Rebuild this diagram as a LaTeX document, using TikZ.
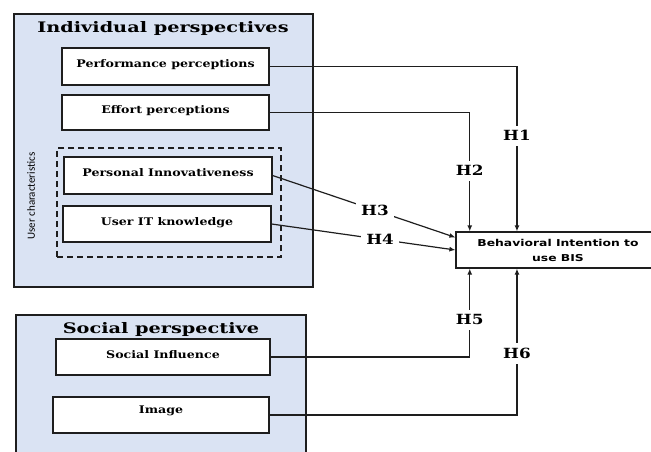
\documentclass[tikz,border=0pt]{standalone}
\usepackage{fontspec}
\setmainfont[FakeStretch=1.2]{DejaVu Serif}
\newfontfamily\titlefont[FakeStretch=1.33]{DejaVu Serif}
\newfontfamily\charfont{Carlito}
\newfontfamily\bisfont[FakeStretch=1.3]{DejaVu Sans}
\usetikzlibrary{arrows.meta,calc}
\definecolor{panelblue}{RGB}{218,227,243}
\definecolor{lineblack}{RGB}{30,30,30}
\begin{document}
\begin{tikzpicture}[x=1pt, y=-1pt, >={Latex[length=6pt,width=5pt]},
  panel/.style={draw=lineblack, line width=1.2pt, fill=panelblue, inner sep=0pt},
  factor/.style={draw=lineblack, line width=1.2pt, fill=white, inner sep=0pt, text height=9pt, text depth=7pt, font=\bfseries\fontsize{10.5}{13}\selectfont},
  paneltitle/.style={font=\titlefont\bfseries\fontsize{14.5}{18}\selectfont},
  link/.style={draw=lineblack, line width=1.2pt},
  hlabel/.style={fill=white, inner sep=5pt, font=\bfseries\fontsize{14}{16}\selectfont}]
\useasboundingbox (0,0) rectangle (651,451);
% individual perspectives
\node[panel, minimum width=299pt, minimum height=273pt] (indiv) at (163.5,150.5) {};
\node[paneltitle] (indivtitle) at (163,28) {Individual perspectives};
\node[factor, minimum width=207pt, minimum height=37pt] (perf) at (165.5,66.5) {Performance perceptions};
\node[factor, minimum width=207pt, minimum height=35pt] (effort) at (165.5,112.5) {Effort perceptions};
\node[draw=lineblack, line width=1.1pt, dash pattern=on 6pt off 4pt, minimum width=224pt, minimum height=109pt] (usergroup) at (169,202.5) {};
\node[factor, minimum width=208pt, minimum height=37pt] (innov) at (168,175.5) {Personal Innovativeness};
\node[factor, minimum width=208pt, minimum height=36pt] (itknow) at (167,224) {User IT knowledge};
\node[rotate=90, font=\charfont\fontsize{11}{13}\selectfont] (userchar) at (31,196) {User characteristics};
% social perspective
\node[panel, minimum width=290pt, minimum height=145pt] (social) at (161,387.5) {};
\node[paneltitle] (socialtitle) at (161,329) {Social perspective};
\node[factor, minimum width=214pt, minimum height=36pt] (influence) at (163,357) {Social Influence};
\node[factor, minimum width=216pt, minimum height=36pt, text depth=12pt] (image) at (161,415) {Image};
% outcome
\node[draw=lineblack, line width=1.2pt, fill=white, minimum width=204pt, minimum height=36pt, align=center, font=\bisfont\bfseries\fontsize{9.5}{15}\selectfont] (bis) at (558,250) {Behavioral Intention to\\use BIS};
% hypotheses
\draw[link, ->] (perf.east) -| node[hlabel, pos=0.71] {H1} ($(bis.north west)!0.3!(bis.north east)$);
\draw[link, ->] (effort.east) -| node[hlabel, pos=0.745] {H2} ($(bis.north west)!0.07!(bis.north east)$);
\draw[link, ->] (innov.east) -- node[hlabel, pos=0.56] {H3} (bis.173);
\draw[link, ->] (itknow.east) -- node[hlabel, pos=0.59] {H4} (bis.west);
\draw[link, ->] (influence.east) -| node[hlabel, pos=0.71] {H5} ($(bis.south west)!0.07!(bis.south east)$);
\draw[link, ->] (image.east) -| node[hlabel, pos=0.71] {H6} ($(bis.south west)!0.3!(bis.south east)$);
\end{tikzpicture}
\end{document}
